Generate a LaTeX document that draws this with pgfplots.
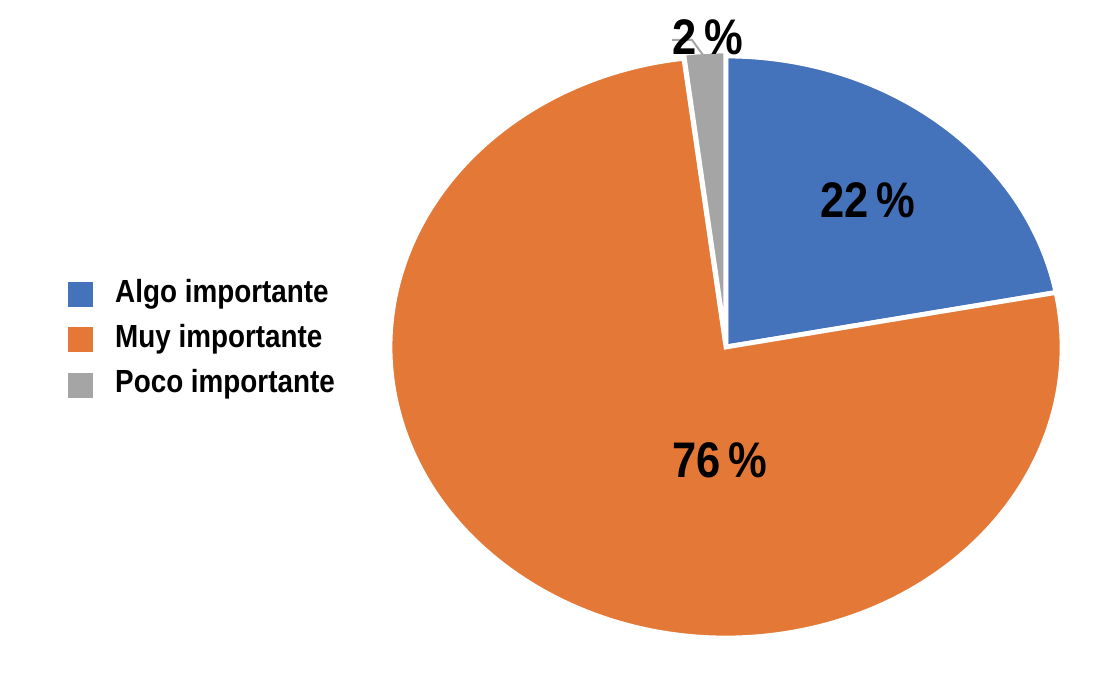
\documentclass[border=0pt]{standalone}
\usepackage{fontspec}
\setmainfont{Liberation Sans}[FakeStretch=0.87]
\usepackage{pgfplots}
\pgfplotsset{compat=1.18}
\usepackage{pgfplotstable}
\usetikzlibrary{calc}

\definecolor{cblue}{RGB}{68,114,187}
\definecolor{corange}{RGB}{228,120,54}
\definecolor{cgray}{RGB}{165,165,165}

% share of answers, explode offset in pt
\pgfplotstableread{
label value explode color
Algo 22 0 cblue
Muy 76 0 corange
Poco 2 2.5 cgray
}\piedata

\begin{document}
\begin{tikzpicture}
\useasboundingbox (0,0) rectangle (549.5pt,337pt);
\def\cum{0}
\begin{axis}[
    at={(0,0)}, anchor=origin,
    width=549.5pt, height=337pt, scale only axis,
    xmin=0, xmax=1099, ymin=0, ymax=674,
    hide axis, clip=false,
    legend image code/.code={\fill[#1] (0pt,-5pt) rectangle (12pt,7pt);},
    legend cell align=left,
    legend style={at={(axis cs:62,396)}, anchor=north west, draw=none, fill=none,
        font=\fontsize{16}{18}\selectfont\bfseries, row sep=9.5pt,
        nodes={inner sep=1pt, text depth=.22em, text height=.75em},
        /tikz/every odd column/.append style={column sep=10pt}},
]
\pgfplotsinvokeforeach{0,1,2}{
  \pgfplotstablegetelem{#1}{value}\of\piedata \let\v\pgfplotsretval
  \pgfplotstablegetelem{#1}{explode}\of\piedata \let\ex\pgfplotsretval
  \pgfplotstablegetelem{#1}{color}\of\piedata \let\col\pgfplotsretval
  \pgfmathsetmacro\astart{90-3.6*\cum}
  \pgfmathsetmacro\aend{90-3.6*(\cum+\v)}
  \pgfmathsetmacro\amid{(\astart+\aend)/2}
  \pgfmathsetmacro\newcum{\cum+\v}\global\let\cum\newcum
  \edef\temp{\noexpand\draw[fill=\col, draw=white, line width=2.4pt]
    ($(axis cs:726,327)+(\amid:\ex pt)$) -- ++(\astart:168pt and 145.5pt)
    arc[start angle=\astart, end angle=\aend, x radius=168pt, y radius=145.5pt] -- cycle;}
  \temp
}
\addlegendimage{cblue}\addlegendentry{Algo importante}
\addlegendimage{corange}\addlegendentry{Muy importante}
\addlegendimage{cgray}\addlegendentry{Poco importante}

\draw[cgray, line width=1pt] (axis cs:672,634) -- (axis cs:692,634) -- (axis cs:703,619);
\node[font=\fontsize{25}{28}\selectfont\bfseries] at (axis cs:868,474) {22\,\%};
\node[font=\fontsize{25}{28}\selectfont\bfseries] at (axis cs:720,214) {76\,\%};
\node[font=\fontsize{25}{28}\selectfont\bfseries] at (axis cs:708,637) {2\,\%};
\end{axis}
\end{tikzpicture}
\end{document}
